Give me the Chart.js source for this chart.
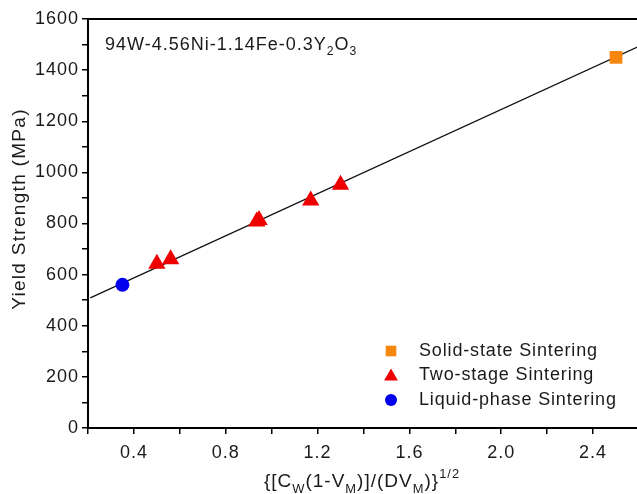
<!DOCTYPE html>
<html lang="en">
<head>
  <meta charset="UTF-8" />
  <title>Yield Strength vs microstructure parameter</title>
  <script src="https://cdn.jsdelivr.net/npm/chart.js"></script>
  <style>
    html, body {
      margin: 0;
      padding: 0;
      background: #fff;
      overflow: hidden;
    }
    /* plot runs a little past the right edge, like the cropped original */
    #wrap {
      width: 639px;
      height: 494px;
    }
  </style>
</head>
<body>
  <div id="wrap"><canvas id="ysChart"></canvas></div>

  <script>
    // data
    const solidX = [2.50];
    const solidY = [1450];
    const twoStageX = [0.50, 0.56, 0.935, 0.945, 1.17, 1.30];
    const twoStageY = [643, 660, 808, 814, 890, 952];
    const liquidX = [0.35];
    const liquidY = [560];
    const fitX = [0.21, 2.60];
    const fitY = [509, 1493];

    const seriesNames = ['Solid-state Sintering', 'Two-stage Sintering', 'Liquid-phase Sintering'];
    const xTickLabels = [0.4, 0.8, 1.2, 1.6, 2.0, 2.4];
    const yTickLabels = [0, 200, 400, 600, 800, 1000, 1200, 1400, 1600];

    const FONT = "'Liberation Sans', Arial, sans-serif";
    const TEXT = '#1a1a1a';
    const pts = (xs, ys) => xs.map((x, i) => ({ x: x, y: ys[i] }));

    // draws a string made of normal / sub / sup pieces, returns width
    function drawRich(ctx, parts, x, y, size, measureOnly) {
      let cx = x;
      parts.forEach(p => {
        const s = p.sub || p.sup ? size * 0.68 : size;
        ctx.font = s + 'px ' + FONT;
        const dy = p.sub ? size * 0.3 : p.sup ? -size * 0.47 : 0;
        if (!measureOnly) ctx.fillText(p.t, cx, y + dy);
        cx += ctx.measureText(p.t).width;
      });
      return cx - x;
    }

    const extras = {
      id: 'extras',
      beforeDraw(chart) {
        // original lettering is a bit loosely spaced
        chart.ctx.letterSpacing = '1px';
      },
      afterDraw(chart) {
        const ctx = chart.ctx;
        const a = chart.chartArea;
        ctx.save();
        ctx.fillStyle = TEXT;
        ctx.textBaseline = 'alphabetic';
        ctx.textAlign = 'left';

        // top frame line
        ctx.strokeStyle = '#000';
        ctx.lineWidth = 2;
        ctx.beginPath();
        ctx.moveTo(a.left, a.top);
        ctx.lineTo(a.right + 2, a.top);
        ctx.stroke();

        // composition label
        ctx.letterSpacing = '1px';
        drawRich(ctx, [{ t: '94W-4.56Ni-1.14Fe-0.3Y' }, { t: '2', sub: true }, { t: 'O' }, { t: '3', sub: true }],
          a.left + 17, 50, 18);

        // x axis title
        const xt = [{ t: '{[C' }, { t: 'W', sub: true }, { t: '(1-V' }, { t: 'M', sub: true },
          { t: ')]/(DV' }, { t: 'M', sub: true }, { t: ')}' }, { t: '1/2', sup: true }];
        const w = drawRich(ctx, xt, 0, 0, 19, true);
        drawRich(ctx, xt, 362 - w / 2, 487, 19);

        // y axis title
        ctx.save();
        ctx.letterSpacing = '1.3px';
        ctx.translate(25, 209);
        ctx.rotate(-Math.PI / 2);
        ctx.textAlign = 'center';
        ctx.font = '19px ' + FONT;
        ctx.fillText('Yield Strength (MPa)', 0, 0);
        ctx.restore();

        // legend inside plot
        const colors = ['#f7860f', '#ee0000', '#0000ee'];
        const styles = ['rect', 'triangle', 'circle'];
        const radii = [7.5, 8, 6];
        ctx.letterSpacing = '0.85px';
        ctx.font = '18px ' + FONT;
        ctx.textBaseline = 'middle';
        for (let i = 0; i < 3; i++) {
          const y = 351 + i * 24.5;
          ctx.fillStyle = colors[i];
          Chart.helpers.drawPoint(ctx, { pointStyle: styles[i], radius: radii[i], rotation: 0, borderWidth: 0 }, 391, y + (i === 1 ? 1 : 0));
          ctx.fillStyle = TEXT;
          ctx.fillText(seriesNames[i], 419, y);
        }
        ctx.restore();
      }
    };

    const axisCommon = {
      border: { display: true, color: '#000', width: 2 },
      grid: { display: true, drawOnChartArea: false, drawTicks: true, tickLength: 6, color: '#000', lineWidth: 1.5 },
      title: { display: false }
    };

    new Chart(document.getElementById('ysChart').getContext('2d'), {
      data: {
        datasets: [
          {
            type: 'scatter', label: seriesNames[0], data: pts(solidX, solidY),
            pointStyle: 'rect', pointRadius: 9, backgroundColor: '#f7860f', borderWidth: 0, order: 0
          },
          {
            type: 'scatter', label: seriesNames[1], data: pts(twoStageX, twoStageY),
            pointStyle: 'triangle', pointRadius: 10, backgroundColor: '#ee0000', borderWidth: 0, order: 0
          },
          {
            type: 'scatter', label: seriesNames[2], data: pts(liquidX, liquidY),
            pointStyle: 'circle', pointRadius: 7, backgroundColor: '#0000ee', borderWidth: 0, order: 0
          },
          {
            type: 'line', label: 'fit', data: pts(fitX, fitY),
            borderColor: '#111', borderWidth: 1.3, pointRadius: 0, fill: false, order: 1
          }
        ]
      },
      options: {
        responsive: true,
        maintainAspectRatio: false,
        animation: false,
        layout: { autoPadding: false, padding: { top: 19, right: 0, left: 0, bottom: 0 } },
        plugins: {
          legend: { display: false },
          tooltip: { enabled: false }
        },
        scales: {
          x: {
            ...axisCommon,
            type: 'linear',
            min: 0.2,
            max: 2.6,
            afterFit: s => { s.height = 66; s.paddingLeft = 0; s.paddingRight = 0; },
            ticks: {
              stepSize: 0.2,
              autoSkip: false,
              maxRotation: 0,
              padding: 8,
              color: TEXT,
              font: { family: FONT, size: 18 },
              callback: v => {
                const hit = xTickLabels.find(t => Math.abs(t - v) < 1e-6);
                return hit !== undefined ? hit.toFixed(1) : '';
              }
            }
          },
          y: {
            ...axisCommon,
            type: 'linear',
            min: 0,
            max: 1600,
            afterFit: s => { s.width = 88; },
            ticks: {
              stepSize: 100,
              autoSkip: false,
              padding: 3,
              color: TEXT,
              font: { family: FONT, size: 18 },
              callback: v => yTickLabels.includes(v) ? String(v) : ''
            }
          }
        }
      },
      plugins: [extras]
    });
  </script>
</body>
</html>
